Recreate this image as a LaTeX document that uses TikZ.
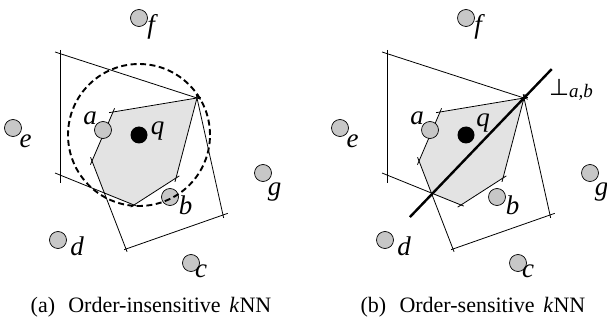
\documentclass[tikz,border=0pt]{standalone}
\usepackage{fontspec}
\setmainfont{Liberation Serif}
\newfontfamily\symfont{DejaVu Sans}
\newcommand\drawpanel{%
  \coordinate (P1) at (113,112);
  \coordinate (P2) at (197,98);
  \coordinate (P3) at (176,178);
  \coordinate (P4) at (134,205);
  \coordinate (P6) at (105,194);
  \coordinate (P5) at (92,161);
  \coordinate (V1) at (60,50);
  \coordinate (V2) at (60,183);
  \coordinate (T1) at (55,52);
  \coordinate (S1) at (55,173);
  \coordinate (BL) at (126,249);
  \coordinate (BR) at (223,215);
  \fill[cellfill] (P1)--(P2)--(P3)--(P4)--(P6)--(P5)--cycle;
  \draw[edgeln] (P1)--(P2);
  \draw[edgeln] (P2)--(P3);
  \draw[edgeln] (P3)--(P4);
  \draw[edgeln] (P5)--(P1);
  \draw[thinln] (V1)--(V2);
  \draw[thinln,shorten >=-4pt] (T1)--(P2);
  \draw[thinln,shorten >=-3pt] (S1)--(P4);
  \draw[thinln,shorten <=-4pt,shorten >=-3pt] (P5)--(BL);
  \draw[thinln,shorten <=-2pt,shorten >=-5pt] (BL)--(BR);
  \draw[thinln,shorten <=-4pt,shorten >=-3pt] (P2)--(BR);
  \node[pt] (f) at (139,18) {};
  \node[pt] (e) at (13,128) {};
  \node[pt] (a) at (103,130) {};
  \node[qpt] (q) at (139,135) {};
  \node[pt] (g) at (263,173) {};
  \node[pt] (b) at (170,197) {};
  \node[pt] (d) at (58,240) {};
  \node[pt] (c) at (191,263) {};
  \node[lbl] (fl) at (151,27) {f};
  \node[lbl] (el) at (25.5,141.5) {e};
  \node[lbl] (al) at (90,118) {a};
  \node[lbl] (gl) at (274.5,192) {g};
  \node[lbl] (bl) at (185.5,205.5) {b};
  \node[lbl] (dl) at (77,246.5) {d};
  \node[lbl] (cl) at (201,271.5) {c};
}
\begin{document}
\begin{tikzpicture}[x=1pt,y=-1pt,
  pt/.style={circle,draw=black,fill=black!22,minimum size=17pt,inner sep=0pt,line width=0.7pt},
  qpt/.style={circle,fill=black,minimum size=17pt,inner sep=0pt},
  lbl/.style={font=\fontsize{27}{27}\selectfont\itshape,inner sep=0pt},
  cellfill/.style={fill=black!11},
  thinln/.style={line width=0.8pt},
  edgeln/.style={line width=0.8pt,shorten <=-4pt,shorten >=-4pt},
  dashcirc/.style={line width=1.9pt,dash pattern=on 6pt off 3.5pt},
  thickln/.style={line width=2.4pt},
  captxt/.style={font=\fontsize{22}{22}\selectfont,inner sep=0pt}]
\useasboundingbox (0,0) rectangle (607,323);
\begin{scope}[name prefix=L-]
  \drawpanel
  \node[lbl] (ql) at (157.5,131) {q};
  \draw[dashcirc] (q) circle[radius=71pt];
\end{scope}
\begin{scope}[xshift=327pt,name prefix=R-]
  \drawpanel
  \node[lbl] (ql) at (156,123) {q};
  \draw[thickln,shorten <=-32pt,shorten >=-40pt] (P6)--(P2);
  \node[anchor=west,inner sep=0pt] (perp) at (222,90) {{\symfont\fontsize{23}{23}\selectfont ⊥}\raisebox{-2.5pt}{\fontsize{19}{19}\selectfont\textit{a,b}}};
\end{scope}
\node[captxt] (capA) at (151,307) {(a)\hspace{0.6em}Order-insensitive\hspace{0.4em}\textit{k}NN};
\node[captxt] (capB) at (473,307) {(b)\hspace{0.6em}Order-sensitive\hspace{0.4em}\textit{k}NN};
\end{tikzpicture}
\end{document}
